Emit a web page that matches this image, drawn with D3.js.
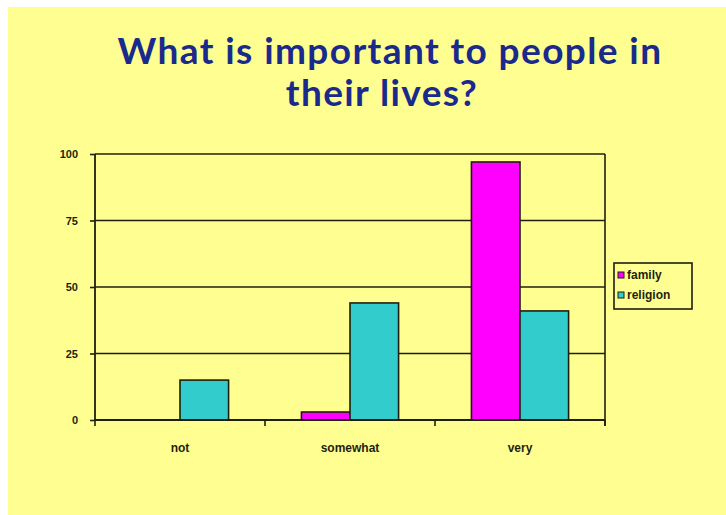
<!DOCTYPE html>
<html>
<head>
<meta charset="utf-8">
<script src="https://cdn.jsdelivr.net/npm/d3@7"></script>
<style>
  html, body { margin: 0; padding: 0; background: #ffffff; }
  svg { display: block; }
</style>
</head>
<body>
<svg id="chart" width="726" height="515"></svg>
<script>
// Survey responses: how important family and religion are (percent)
const categories = ["not", "somewhat", "very"];
const seriesNames = ["family", "religion"];
const familyValues = [0, 3, 97];
const religionValues = [15, 44, 41];
const yTicks = [0, 25, 50, 75, 100];
const titleLines = ["What is important to people in", "their lives?"];

const colors = { family: "#ff00ff", religion: "#33cccc" };
const ink = "#1f1f10";

const svg = d3.select("#chart");
const W = 726, H = 515;

// slide background
svg.append("rect").attr("x", 8).attr("y", 7).attr("width", W - 8).attr("height", H - 7)
  .attr("fill", "#ffff91");

// title
const title = svg.append("g").attr("fill", "#1a2a8c")
  .attr("font-family", "Lato, 'Open Sans', sans-serif")
  .attr("font-weight", "bold")
  .attr("text-anchor", "middle");
title.selectAll("text").data(titleLines).join("text")
  .attr("x", (d, i) => i === 0 ? 390 : 382)
  .attr("y", (d, i) => 64 + i * 42)
  .attr("font-size", 37)
  .attr("letter-spacing", 1.4)
  .text(d => d);

// plot area
const m = { left: 95, right: 605, top: 154, bottom: 420 };

const x0 = d3.scaleBand().domain(categories).range([m.left, m.right]);
const x1 = d3.scaleBand().domain(seriesNames)
  .range([0, x0.bandwidth()]).paddingInner(0).paddingOuter(0.75);
const y = d3.scaleLinear().domain([0, 100]).range([m.bottom, m.top]);

const data = categories.map((c, i) => ({
  category: c,
  values: [
    { key: "family", value: familyValues[i] },
    { key: "religion", value: religionValues[i] }
  ]
}));

// gridlines
svg.append("g").selectAll("line").data(yTicks.filter(t => t > 0)).join("line")
  .attr("x1", m.left).attr("x2", m.right)
  .attr("y1", d => y(d)).attr("y2", d => y(d))
  .attr("stroke", ink).attr("stroke-width", 1.6);

// right border of plot area
svg.append("line")
  .attr("x1", m.right).attr("x2", m.right).attr("y1", m.top).attr("y2", m.bottom + 6)
  .attr("stroke", ink).attr("stroke-width", 1.6);

// bars
const groups = svg.append("g").selectAll("g").data(data).join("g")
  .attr("transform", d => `translate(${x0(d.category)},0)`);
groups.selectAll("rect").data(d => d.values.filter(v => v.value > 0)).join("rect")
  .attr("x", d => x1(d.key))
  .attr("width", x1.bandwidth())
  .attr("y", d => y(d.value))
  .attr("height", d => y(0) - y(d.value))
  .attr("fill", d => colors[d.key])
  .attr("stroke", ink).attr("stroke-width", 1.6);

// y axis
const yAxis = svg.append("g")
  .attr("transform", `translate(${m.left},0)`)
  .call(d3.axisLeft(y).tickValues(yTicks).tickSize(5).tickPadding(12).tickFormat(d3.format("d")));
yAxis.select(".domain").attr("stroke", ink).attr("stroke-width", 1.8)
  .attr("d", `M0,${m.top}V${m.bottom}`);
yAxis.selectAll(".tick line").attr("stroke", ink).attr("stroke-width", 1.6);
yAxis.selectAll(".tick text")
  .attr("font-family", "Arial, 'Liberation Sans', sans-serif")
  .attr("font-weight", "bold").attr("font-size", 11).attr("fill", ink);

// x axis: ticks on category boundaries
const xAxis = svg.append("g").attr("transform", `translate(0,${m.bottom})`);
xAxis.append("line").attr("x1", m.left).attr("x2", m.right)
  .attr("stroke", ink).attr("stroke-width", 1.8);
const bounds = categories.map(c => x0(c)).concat([m.right]);
xAxis.selectAll("line.tk").data(bounds).join("line").attr("class", "tk")
  .attr("x1", d => d).attr("x2", d => d).attr("y1", 0).attr("y2", 6)
  .attr("stroke", ink).attr("stroke-width", 1.6);
xAxis.selectAll("text").data(categories).join("text")
  .attr("x", d => x0(d) + x0.bandwidth() / 2)
  .attr("y", 32)
  .attr("text-anchor", "middle")
  .attr("font-family", "Arial, 'Liberation Sans', sans-serif")
  .attr("font-weight", "bold").attr("font-size", 12).attr("fill", ink)
  .text(d => d);

// legend
const legend = svg.append("g").attr("transform", "translate(614,263)");
legend.append("rect").attr("width", 78).attr("height", 46)
  .attr("fill", "none").attr("stroke", ink).attr("stroke-width", 1.6);
const items = legend.selectAll("g").data(seriesNames).join("g")
  .attr("transform", (d, i) => `translate(4,${10 + i * 20})`);
items.append("rect").attr("width", 6).attr("height", 6).attr("y", -1)
  .attr("fill", d => colors[d]).attr("stroke", ink).attr("stroke-width", 1);
items.append("text").attr("x", 9).attr("y", 6)
  .attr("font-family", "Arial, 'Liberation Sans', sans-serif")
  .attr("font-weight", "bold").attr("font-size", 12).attr("fill", ink)
  .text(d => d);
</script>
</body>
</html>
